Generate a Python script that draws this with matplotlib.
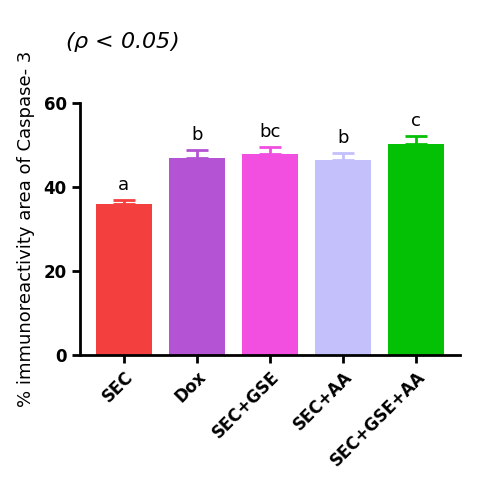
import matplotlib

matplotlib.use("Agg")
import matplotlib.pyplot as plt

groups = ["SEC", "Dox", "SEC+GSE", "SEC+AA", "SEC+GSE+AA"]
means = [36.0, 46.9, 47.9, 46.4, 50.2]
errors = [0.9, 1.9, 1.6, 1.7, 1.9]
letters = ["a", "b", "bc", "b", "c"]
colors = ["#f43f3f", "#b453d3", "#f24ee0", "#c3c0fb", "#05c105"]

fig = plt.figure(figsize=(5, 4.95), dpi=100)
ax = fig.add_axes([0.16, 0.283, 0.76, 0.509])

x = range(len(groups))
ax.bar(x, means, width=0.76, color=colors, zorder=2)
for xi, m, e, c, lab in zip(x, means, errors, colors, letters):
    ax.errorbar(xi, m, yerr=[[0], [e]], color=c, capsize=8, capthick=2,
                elinewidth=2, zorder=1)
    ax.text(xi, m + e + 1.5, lab, ha="center", va="bottom", fontsize=13)

ax.set_xlim(-0.6, len(groups) - 0.4)
ax.set_ylim(0, 60)
ax.set_yticks([0, 20, 40, 60])
ax.tick_params(axis="both", width=2, length=6, labelsize=12)
for lbl in ax.get_yticklabels():
    lbl.set_fontweight("bold")
ax.set_xticks(list(x))
ax.set_xticklabels(groups, rotation=45, ha="right", rotation_mode="anchor",
                   fontweight="bold", fontsize=12)
ax.spines[["top", "right"]].set_visible(False)
ax.spines[["left", "bottom"]].set_linewidth(2)
ax.set_ylabel("% immunoreactivity area of Caspase- 3", fontsize=13, labelpad=6)

fig.text(0.13, 0.915, r"($\rho$ < 0.05)", fontsize=16, style="italic", va="center")

fig.savefig("out.png", dpi=100)
